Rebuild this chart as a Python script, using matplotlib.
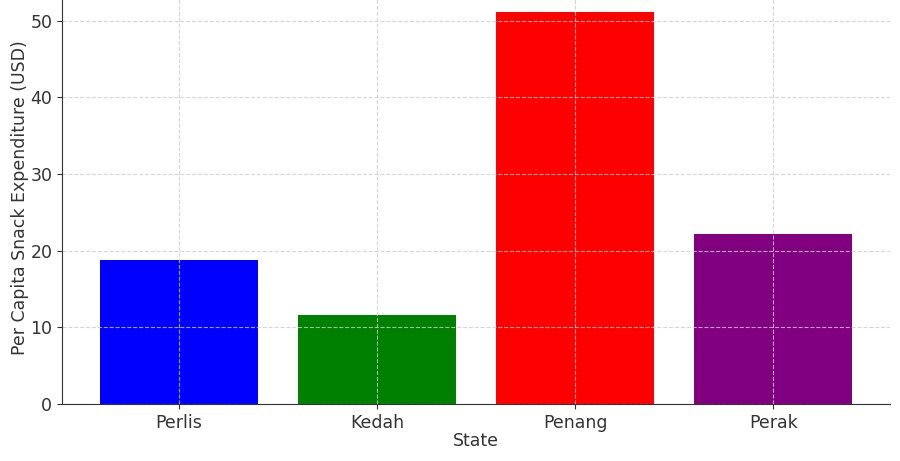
import matplotlib
matplotlib.use("Agg")
import matplotlib.pyplot as plt

states = ["Perlis", "Kedah", "Penang", "Perak"]
values = [18.8, 11.6, 51.2, 22.2]
colors = ["blue", "green", "red", "purple"]

fig = plt.figure(figsize=(9, 4.61), dpi=100)
ax = fig.add_axes([62/900, 57/461, 828/900, 412/461])
ax.bar(states, values, color=colors, width=0.8)
ax.set_ylim(0, 53.76)
ax.set_xlim(-0.59, 3.59)
ax.grid(True, linestyle="--", color="#cccccc", alpha=0.8, linewidth=0.8)
ax.spines["top"].set_visible(False)
ax.spines["right"].set_visible(False)
for s in ["left", "bottom"]:
    ax.spines[s].set_color("#333333")
ax.tick_params(colors="#333333", labelsize=12.5)
ax.set_xlabel("State", fontsize=12.5, color="#333333", labelpad=0)
ax.set_ylabel("Per Capita Snack Expenditure (USD)", fontsize=12.5, color="#333333", labelpad=1)
fig.savefig("out.png", dpi=100)
